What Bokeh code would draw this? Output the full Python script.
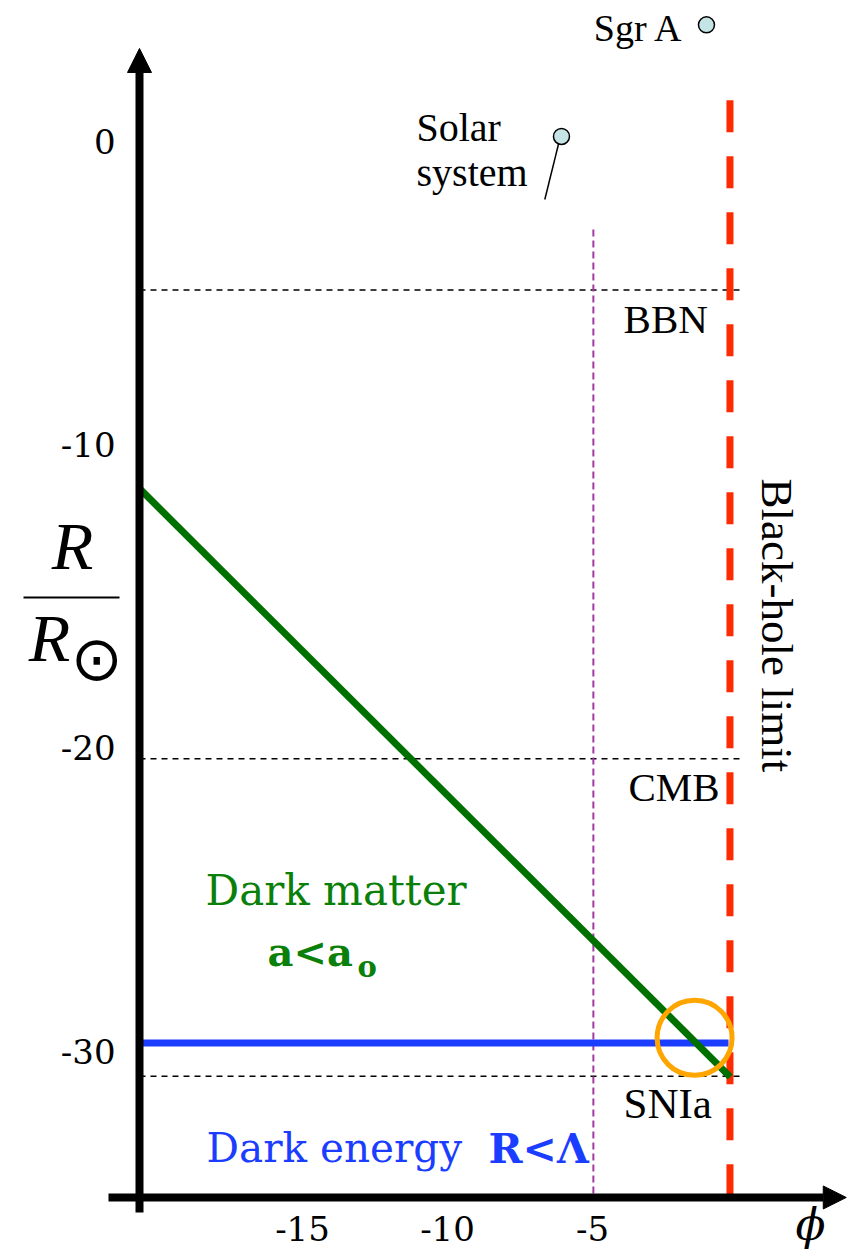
from bokeh.plotting import figure
from bokeh.models import Range1d, Arrow, NormalHead
from bokeh.core.properties import value
from bokeh.embed import file_html
from bokeh.resources import INLINE

# ---- data (chart units: x = phi, y = R / R_sun) ----
y_ticks = [0, -10, -20, -30]
y_tick_labels = ["0", "-10", "-20", "-30"]
x_ticks = [-15, -10, -5]
x_tick_labels = ["-15", "-10", "-5"]

dm_x = [-20.62, -0.25]          # dark-matter boundary (green)
dm_y = [-11.45, -30.85]
de_x = [-20.62, -0.31]          # dark-energy boundary (blue)
de_y = [-29.73, -29.73]

epoch_names = ["BBN", "CMB", "SNIa"]
epoch_y = [-4.90, -20.36, -30.83]
epoch_x_end = 0.21
epoch_label_x = [-3.93, -3.76, -3.93]
epoch_label_y = [-5.86, -21.29, -31.72]

bh_x = -0.26                    # black-hole limit
bh_y_top = 1.35
purple_x = -4.97
purple_y_top = -2.91

obj_names = ["Solar system", "Sgr A"]
obj_x = [-6.07, -1.07]
obj_y = [0.16, 3.84]
pointer_x = [-6.645, -6.128]
pointer_y = [-1.919, 0.082]

overlap_x = [-1.48]
overlap_y = [-29.56]

# axis geometry (chart units)
AX_X = -20.621                  # vertical axis at this phi
AX_Y = -34.823                  # horizontal axis at this R

X0, X1 = -25.414, 3.793
Y0, Y1 = -36.703, 4.642

p = figure(width=847, height=1254,
           x_range=Range1d(X0, X1), y_range=Range1d(Y0, Y1),
           output_backend="svg", toolbar_location=None,
           x_axis_location=None, y_axis_location=None, min_border=0)
p.outline_line_color = None
p.grid.visible = False
p.background_fill_color = "white"

serif = value("Liberation Serif")
geo = value("DejaVu Serif")

# tick labels
p.text(x=[-21.448] * len(y_ticks), y=y_ticks, text=y_tick_labels,
       text_font=geo, text_font_size="34px", text_color="black",
       text_align="right", text_baseline="middle")
p.text(x=x_ticks, y=[-35.85] * len(x_ticks), text=x_tick_labels,
       text_font=geo, text_font_size="34px", text_color="black",
       text_align="center", text_baseline="middle")

# thin dashed epoch lines
p.segment(x0=AX_X, y0=epoch_y, x1=epoch_x_end, y1=epoch_y,
          line_color="black", line_width=1.5, line_dash="6 5")
# purple dashed vertical
p.segment(x0=[purple_x], y0=[purple_y_top], x1=[purple_x], y1=[AX_Y],
          line_color="#a23aa3", line_width=2, line_dash="7 4")
# black-hole limit
p.line([bh_x, bh_x], [bh_y_top, AX_Y], line_color="#ff2a00", line_width=7,
       line_dash="32 24")
# dark energy / dark matter lines
p.line(de_x, de_y, line_color="#1a3dff", line_width=7)
p.line(dm_x, dm_y, line_color="#007000", line_width=7)
p.scatter(overlap_x, overlap_y, size=75, fill_color=None,
          line_color="#ffa500", line_width=5)

# objects
p.line(pointer_x, pointer_y, line_color="black", line_width=1.5)
p.scatter(obj_x, obj_y, size=16, fill_color="#c4e4e6",
          line_color="black", line_width=1.5)

# texts
p.text(x=epoch_label_x, y=epoch_label_y, text=epoch_names,
       text_font=serif, text_font_size=["41px", "41px", "43px"],
       text_color="black", text_baseline="middle", text_align="left")
p.text(x=[-1.862], y=[3.72], text=["Sgr A"], text_font=serif,
       text_font_size="38px", text_align="right", text_baseline="middle")
p.text(x=[-11.069, -11.069], y=[0.455, -1.029], text=["Solar", "system"],
       text_font=serif, text_font_size="40px", text_align="left",
       text_baseline="middle")
p.text(x=[1.345], y=[-11.118], text=["Black-hole limit"], text_font=serif,
       text_font_size="45px", angle=-90, angle_units="deg",
       text_align="left", text_baseline="middle")

p.text(x=[-18.345], y=[-24.70], text=["Dark matter"], text_font=geo,
       text_font_size="42px", text_color="#0a800a", text_baseline="middle")
p.text(x=[-16.207], y=[-26.71], text=["a<a"], text_font=geo,
       text_font_style="bold", text_font_size="40px", text_color="#0a800a",
       text_baseline="middle")
p.text(x=[-13.103], y=[-27.24], text=["o"], text_font=geo,
       text_font_style="bold", text_font_size="29px", text_color="#0a800a",
       text_baseline="middle")
p.text(x=[-18.31], y=[-33.18], text=["Dark energy"], text_font=geo,
       text_font_size="40.5px", text_color="#1a3dff", text_baseline="middle")
p.text(x=[-8.586], y=[-33.21], text=["R<Λ"], text_font=geo,
       text_font_style="bold", text_font_size="41px", text_color="#1a3dff",
       text_baseline="middle")

# axes arrows
p.add_layout(Arrow(end=NormalHead(size=24, fill_color="black", line_color="black"),
                   x_start=AX_X, y_start=-35.318, x_end=AX_X, y_end=3.06,
                   line_color="black", line_width=8))
p.add_layout(Arrow(end=NormalHead(size=23, fill_color="black", line_color="black"),
                   x_start=-21.69, y_start=AX_Y, x_end=3.75, y_end=AX_Y,
                   line_color="black", line_width=8))

# y-axis label R / R_sun
p.text(x=[-22.931, -23.724], y=[-13.34, -16.38], text=["R", "R"],
       text_font=serif, text_font_style="italic", text_font_size="68px",
       text_align="center", text_baseline="middle", text_color="black")
p.segment(x0=[-24.621], y0=[-15.04], x1=[-21.31], y1=[-15.04],
          line_color="black", line_width=2)
p.text(x=[-22.10], y=[-17.05], text=["⊙"], text_font=value("DejaVu Sans"),
       text_font_size="62px", text_align="center", text_baseline="middle")
# x-axis label phi
p.text(x=[2.517], y=[-35.71], text=["ϕ"], text_font=geo,
       text_font_style="italic", text_font_size="44px",
       text_align="center", text_baseline="middle")

open("out.html", "w").write(file_html(p, INLINE))
